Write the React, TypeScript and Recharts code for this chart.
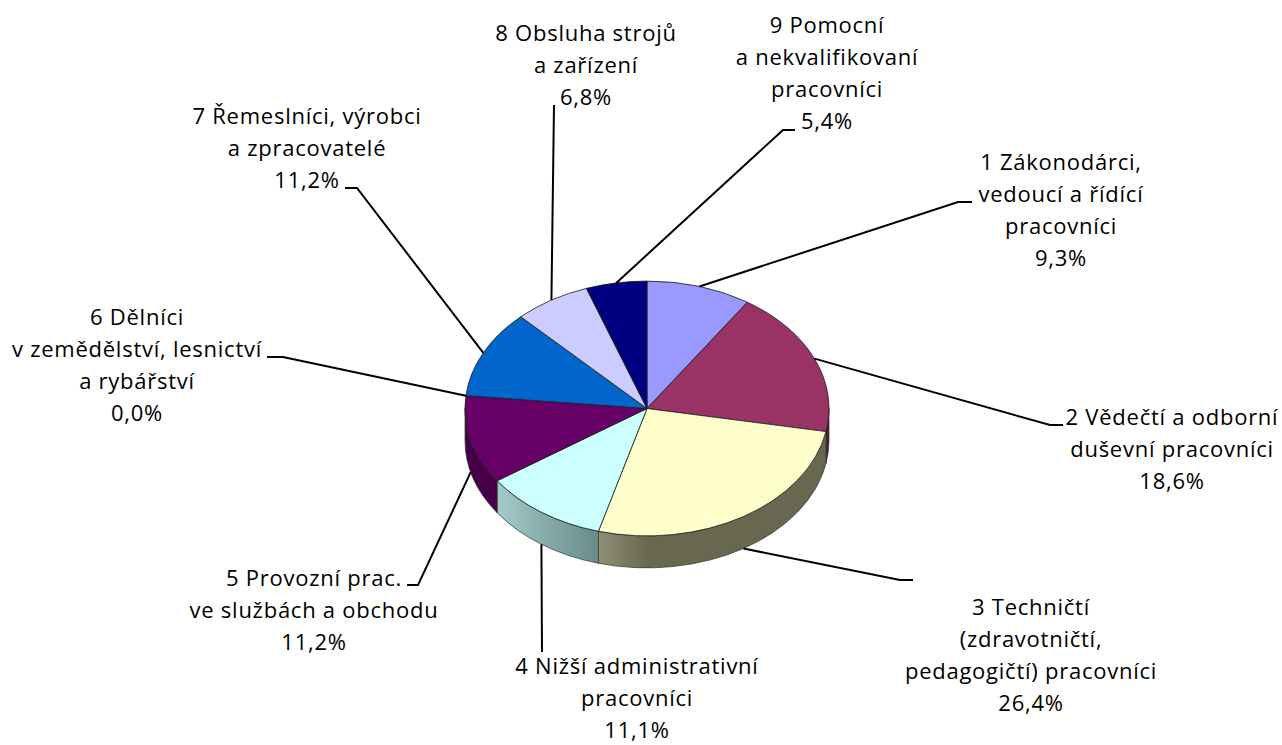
import { Pie, PieChart } from 'recharts';

const NAMES = [
  ['1 Zákonodárci,', 'vedoucí a řídící', 'pracovníci'],
  ['2 Vědečtí a odborní', 'duševní pracovníci'],
  ['3 Techničtí', '(zdravotničtí,', 'pedagogičtí) pracovníci'],
  ['4 Nižší administrativní', 'pracovníci'],
  ['5 Provozní prac.', 've službách a obchodu'],
  ['6 Dělníci', 'v zemědělství, lesnictví', 'a rybářství'],
  ['7 Řemeslníci, výrobci', 'a zpracovatelé'],
  ['8 Obsluha strojů', 'a zařízení'],
  ['9 Pomocní', 'a nekvalifikovaní', 'pracovníci'],
];
const VALUES = [9.3, 18.6, 26.4, 11.1, 11.2, 0.0, 11.2, 6.8, 5.4];
const COLORS = ['#9999FF', '#993366', '#FFFFCC', '#CCFFFF', '#660066', '#FF00FF', '#0066CC', '#CCCCFF', '#000080'];
const WALLS = ['#4c1933', '#4c1933', 'url(#wall3)', 'url(#wall4)', '#470047', '#470047', '#003366', '#666680', '#000040'];

// text centre x, first baseline y
const LABEL_POS = [
  [1061, 170], [1172, 425], [1031, 615], [637, 674], [314, 586],
  [137, 325], [307, 124], [586, 41], [827, 33],
];
// where each leader bends, and where its short horizontal tail stops
const LEADER_ELBOW = [
  [958, 202], [1050, 425], [900, 580], [542, 652], [418, 585],
  [283, 357], [357, 188], [554, 105], [783, 130],
];
const LEADER_END = [972, 1063, 913, 542, 407, 267, 345, 554, 795];
const ON_WALL = [false, false, true, true, true, false, false, false, false];

const CX = 647;
const CY = 408.5;
const RX = 182;
const SQUASH = 0.7;
const DEPTH = 32;
const LINE_H = 32;
const RAD = Math.PI / 180;

const data = VALUES.map((value, i) => ({ name: NAMES[i].join(' '), value, fill: COLORS[i] }));

const rim = (cx: number, cy: number, r: number, a: number) => [
  cx + r * Math.cos(a * RAD),
  cy - r * SQUASH * Math.sin(a * RAD),
];

function TopSlice({ cx, cy, outerRadius: r, startAngle, endAngle, fill }: any) {
  if (Math.abs(startAngle - endAngle) < 0.01) return null;
  const [x1, y1] = rim(cx, cy, r, startAngle);
  const [x2, y2] = rim(cx, cy, r, endAngle);
  const large = startAngle - endAngle > 180 ? 1 : 0;
  return (
    <path
      d={`M${cx},${cy}L${x1},${y1}A${r},${r * SQUASH} 0 ${large} 1 ${x2},${y2}Z`}
      fill={fill}
      stroke="#1a1a1a"
      strokeWidth={0.8}
    />
  );
}

function WallSlice({ cx, cy, outerRadius: r, startAngle, endAngle, index }: any) {
  // only the front half of the rim shows (angles 0 to -180)
  const a1 = Math.min(startAngle, 0);
  const a2 = Math.max(endAngle, -180);
  if (a1 - a2 < 0.01) return null;
  const [x1, y1] = rim(cx, cy, r, a1);
  const [x2, y2] = rim(cx, cy, r, a2);
  const ry = r * SQUASH;
  return (
    <path
      d={`M${x1},${y1}A${r},${ry} 0 0 1 ${x2},${y2}L${x2},${y2 + DEPTH}A${r},${ry} 0 0 0 ${x1},${y1 + DEPTH}Z`}
      fill={WALLS[index]}
      stroke="#333"
      strokeWidth={0.7}
    />
  );
}

function SliceLabel({ cx, cy, outerRadius: r, midAngle, index }: any) {
  const [ax, ay] = rim(cx, cy, r, midAngle);
  const [ex, ey] = LEADER_ELBOW[index];
  const [tx, ty] = LABEL_POS[index];
  const startY = ON_WALL[index] ? ay + DEPTH : ay;
  const lines = [...NAMES[index], `${VALUES[index].toFixed(1).replace('.', ',')}%`];
  return (
    <g>
      <polyline
        points={`${ax},${startY} ${ex},${ey} ${LEADER_END[index]},${ey}`}
        fill="none"
        stroke="#000"
        strokeWidth={2}
      />
      {lines.map((line, i) => (
        <text
          key={i}
          x={tx}
          y={ty + i * LINE_H}
          textAnchor="middle"
          fontFamily="'Open Sans', sans-serif"
          fontSize={22}
          letterSpacing={0.75}
          fill="#000"
        >
          {line}
        </text>
      ))}
    </g>
  );
}

export default function App() {
  return (
    <div style={{ position: 'absolute', left: 0, top: 0, width: 1282, height: 745, background: '#fff' }}>
      <PieChart width={1282} height={745} margin={{ top: 0, right: 0, bottom: 0, left: 0 }}>
        <defs>
          <linearGradient id="wall3" x1="0" y1="0" x2="1" y2="0">
            <stop offset="0" stopColor="#8f8f74" />
            <stop offset="0.22" stopColor="#686850" />
            <stop offset="1" stopColor="#686850" />
          </linearGradient>
          <linearGradient id="wall4" x1="0" y1="0" x2="1" y2="0">
            <stop offset="0" stopColor="#a3cbc9" />
            <stop offset="1" stopColor="#688a8a" />
          </linearGradient>
        </defs>
        <Pie
          data={data}
          dataKey="value"
          cx={CX}
          cy={CY}
          outerRadius={RX}
          startAngle={90}
          endAngle={-270}
          shape={WallSlice}
          isAnimationActive={false}
        />
        <Pie
          data={data}
          dataKey="value"
          cx={CX}
          cy={CY}
          outerRadius={RX}
          startAngle={90}
          endAngle={-270}
          shape={TopSlice}
          label={SliceLabel}
          labelLine={false}
          isAnimationActive={false}
        />
      </PieChart>
    </div>
  );
}
